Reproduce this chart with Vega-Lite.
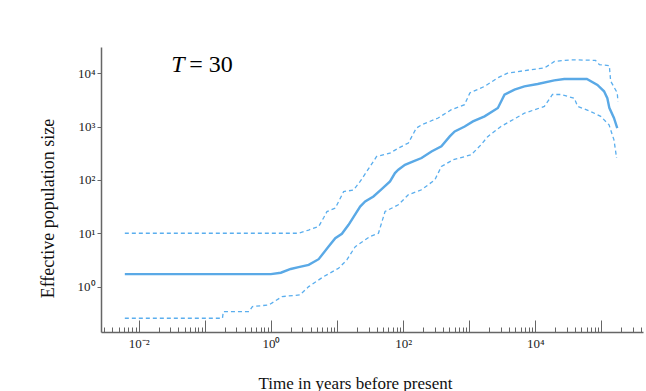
{
  "$schema": "https://vega.github.io/schema/vega-lite/v6.json",
  "width": 542,
  "height": 285,
  "autosize": {"type": "none"},
  "padding": {"left": 101, "top": 47, "right": 3, "bottom": 59},
  "background": "white",
  "config": {
    "view": {"stroke": null},
    "font": "Liberation Serif",
    "axis": {
      "domainColor": "#666666",
      "domainWidth": 1.5,
      "tickColor": "#666666",
      "tickWidth": 1,
      "labelFont": "Liberation Serif",
      "labelColor": "#222222",
      "titleFont": "Liberation Serif",
      "titleFontWeight": "normal",
      "titleColor": "#111111",
      "grid": false
    }
  },
  "layer": [
    {
      "data": {"values": [
        {"t": 0.00617, "n": 10, "s": "upper"},
        {"t": 2.63, "n": 10, "s": "upper"},
        {"t": 3.73, "n": 11.48, "s": "upper"},
        {"t": 5.28, "n": 13.37, "s": "upper"},
        {"t": 6.28, "n": 19.5, "s": "upper"},
        {"t": 7.05, "n": 25.5, "s": "upper"},
        {"t": 9.42, "n": 29.5, "s": "upper"},
        {"t": 12.6, "n": 60.3, "s": "upper"},
        {"t": 17.8, "n": 64.6, "s": "upper"},
        {"t": 22.4, "n": 93.3, "s": "upper"},
        {"t": 28.2, "n": 143.6, "s": "upper"},
        {"t": 39.8, "n": 275, "s": "upper"},
        {"t": 63.1, "n": 316, "s": "upper"},
        {"t": 85.1, "n": 395, "s": "upper"},
        {"t": 120.2, "n": 490, "s": "upper"},
        {"t": 158.5, "n": 933, "s": "upper"},
        {"t": 190.5, "n": 1072, "s": "upper"},
        {"t": 339, "n": 1445, "s": "upper"},
        {"t": 537, "n": 2065, "s": "upper"},
        {"t": 851, "n": 2570, "s": "upper"},
        {"t": 1023, "n": 4266, "s": "upper"},
        {"t": 1698, "n": 5623, "s": "upper"},
        {"t": 2692, "n": 8128, "s": "upper"},
        {"t": 3802, "n": 10000, "s": "upper"},
        {"t": 8710, "n": 11641, "s": "upper"},
        {"t": 13804, "n": 12503, "s": "upper"},
        {"t": 19498, "n": 16596, "s": "upper"},
        {"t": 34674, "n": 17783, "s": "upper"},
        {"t": 81283, "n": 17378, "s": "upper"},
        {"t": 93325, "n": 14454, "s": "upper"},
        {"t": 131826, "n": 13804, "s": "upper"},
        {"t": 138038, "n": 7079, "s": "upper"},
        {"t": 173780, "n": 4266, "s": "upper"},
        {"t": 177828, "n": 2951, "s": "upper"},
        {"t": 0.00617, "n": 0.255, "s": "lower"},
        {"t": 0.185, "n": 0.255, "s": "lower"},
        {"t": 0.1905, "n": 0.34, "s": "lower"},
        {"t": 0.468, "n": 0.34, "s": "lower"},
        {"t": 0.525, "n": 0.422, "s": "lower"},
        {"t": 0.933, "n": 0.454, "s": "lower"},
        {"t": 1.479, "n": 0.65, "s": "lower"},
        {"t": 2.754, "n": 0.698, "s": "lower"},
        {"t": 3.73, "n": 1.0, "s": "lower"},
        {"t": 6.28, "n": 1.54, "s": "lower"},
        {"t": 10.57, "n": 2.21, "s": "lower"},
        {"t": 14.1, "n": 3.16, "s": "lower"},
        {"t": 18.9, "n": 5.62, "s": "lower"},
        {"t": 31.6, "n": 8.67, "s": "lower"},
        {"t": 42.4, "n": 10, "s": "lower"},
        {"t": 53.3, "n": 25.5, "s": "lower"},
        {"t": 84.7, "n": 34.1, "s": "lower"},
        {"t": 119.7, "n": 52.5, "s": "lower"},
        {"t": 190.1, "n": 65.2, "s": "lower"},
        {"t": 302, "n": 100, "s": "lower"},
        {"t": 380, "n": 178, "s": "lower"},
        {"t": 570, "n": 238, "s": "lower"},
        {"t": 1072, "n": 295, "s": "lower"},
        {"t": 1514, "n": 457, "s": "lower"},
        {"t": 1905, "n": 646, "s": "lower"},
        {"t": 3020, "n": 1000, "s": "lower"},
        {"t": 6855, "n": 1778, "s": "lower"},
        {"t": 13709, "n": 2382, "s": "lower"},
        {"t": 18197, "n": 3981, "s": "lower"},
        {"t": 24378, "n": 3981, "s": "lower"},
        {"t": 38905, "n": 3388, "s": "lower"},
        {"t": 43652, "n": 2382, "s": "lower"},
        {"t": 69183, "n": 1905, "s": "lower"},
        {"t": 97724, "n": 1549, "s": "lower"},
        {"t": 130617, "n": 1072, "s": "lower"},
        {"t": 154882, "n": 562, "s": "lower"},
        {"t": 169824, "n": 257, "s": "lower"}
      ]},
      "mark": {"type": "line", "strokeDash": [4, 3], "strokeWidth": 1.3, "color": "#5aaeee", "clip": true},
      "encoding": {
        "x": {
          "field": "t", "type": "quantitative",
          "scale": {"type": "log", "domain": [0.00269, 426000], "nice": false},
          "axis": {
            "title": "Time in years before present",
            "titleFontSize": 17,
            "titleX": 254,
            "titleY": 56,
            "titleBaseline": "alphabetic",
            "titleAlign": "center",
            "values": [0.003,0.004,0.005,0.006,0.007,0.008,0.009,0.01,0.02,0.03,0.04,0.05,0.06,0.07,0.08,0.09,0.1,0.2,0.3,0.4,0.5,0.6,0.7,0.8,0.9,1,2,3,4,5,6,7,8,9,10,20,30,40,50,60,70,80,90,100,200,300,400,500,600,700,800,900,1000,2000,3000,4000,5000,6000,7000,8000,9000,10000,20000,30000,40000,50000,60000,70000,80000,90000,100000,200000,300000,400000],
            "tickSize": {"condition": {"test": "abs(log(datum.value)/LN10 - round(log(datum.value)/LN10)) < 0.001", "value": -12}, "value": -5},
            "labelExpr": "abs(datum.value-0.01)<1e-9 ? '10⁻²' : abs(datum.value-1)<1e-9 ? '10⁰' : abs(datum.value-100)<1e-9 ? '10²' : abs(datum.value-10000)<1e-9 ? '10⁴' : ''",
            "labelOverlap": false,
            "labelBound": false,
            "labelFontSize": 13,
            "labelPadding": 17,
            "labelFlush": false
          }
        },
        "y": {
          "field": "n", "type": "quantitative",
          "scale": {"type": "log", "domain": [0.141, 30900], "nice": false},
          "axis": {
            "title": "Effective population size",
            "titleFontSize": 18,
            "titleX": -53,
            "titleY": 161,
            "titleAngle": -90,
            "titleBaseline": "middle",
            "titleAlign": "center",
            "values": [1, 10, 100, 1000, 10000],
            "labelExpr": "datum.value==1 ? '10⁰' : datum.value==10 ? '10¹' : datum.value==100 ? '10²' : datum.value==1000 ? '10³' : '10⁴'",
            "tickSize": 4,
            "labelFontSize": 13,
            "labelPadding": 2,
            "labelOverlap": false
          }
        },
        "detail": {"field": "s"}
      }
    },
    {
      "data": {"values": [
        {"t": 0.00617, "n": 1.71},
        {"t": 1, "n": 1.71},
        {"t": 1.413, "n": 1.82},
        {"t": 1.995, "n": 2.138},
        {"t": 2.63, "n": 2.312},
        {"t": 3.73, "n": 2.553},
        {"t": 5.28, "n": 3.266},
        {"t": 7.46, "n": 5.62},
        {"t": 9.42, "n": 8.09},
        {"t": 11.86, "n": 9.75},
        {"t": 14.96, "n": 14.39},
        {"t": 22.4, "n": 31.6},
        {"t": 26.7, "n": 39.4},
        {"t": 35.6, "n": 48.9},
        {"t": 47.4, "n": 67.1},
        {"t": 63.4, "n": 93.3},
        {"t": 75.3, "n": 134.3},
        {"t": 84.7, "n": 154.9},
        {"t": 106.7, "n": 191.9},
        {"t": 142.6, "n": 221.3},
        {"t": 190.1, "n": 257},
        {"t": 269, "n": 341},
        {"t": 380, "n": 424},
        {"t": 508, "n": 652},
        {"t": 604, "n": 809},
        {"t": 855, "n": 1000},
        {"t": 1140, "n": 1247},
        {"t": 1710, "n": 1549},
        {"t": 2716, "n": 2223},
        {"t": 3420, "n": 3954},
        {"t": 4842, "n": 4898},
        {"t": 6839, "n": 5649},
        {"t": 10864, "n": 6266},
        {"t": 19364, "n": 7328},
        {"t": 27416, "n": 7762},
        {"t": 60256, "n": 7762},
        {"t": 87096, "n": 6026},
        {"t": 109648, "n": 4571},
        {"t": 123027, "n": 3388},
        {"t": 131826, "n": 2239},
        {"t": 154882, "n": 1445},
        {"t": 173780, "n": 933}
      ]},
      "mark": {"type": "line", "strokeWidth": 2.4, "color": "#5aa9e6", "clip": true},
      "encoding": {
        "x": {"field": "t", "type": "quantitative"},
        "y": {"field": "n", "type": "quantitative"}
      }
    },
    {
      "data": {"values": [{"t": 0.0312, "n": 10700, "label": "T"}]},
      "mark": {"type": "text", "align": "left", "baseline": "alphabetic", "fontSize": 24, "fontStyle": "italic", "font": "Liberation Serif", "color": "#000000"},
      "encoding": {
        "x": {"field": "t", "type": "quantitative"},
        "y": {"field": "n", "type": "quantitative"},
        "text": {"field": "label"}
      }
    },
    {
      "data": {"values": [{"t": 0.0582, "n": 10700, "label": "= 30"}]},
      "mark": {"type": "text", "align": "left", "baseline": "alphabetic", "fontSize": 24, "font": "Liberation Serif", "color": "#000000"},
      "encoding": {
        "x": {"field": "t", "type": "quantitative"},
        "y": {"field": "n", "type": "quantitative"},
        "text": {"field": "label"}
      }
    }
  ]
}
